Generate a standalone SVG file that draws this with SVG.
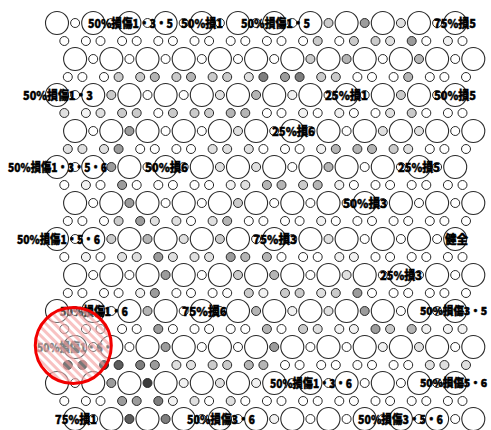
<svg xmlns="http://www.w3.org/2000/svg" xmlns:xlink="http://www.w3.org/1999/xlink" width="491" height="430" viewBox="0 0 491 430">
  <style>
    .L { fill: #fff; stroke: #2a2a2a; stroke-width: 1.1; }
    .s circle { r: 4.5px; stroke: #2a2a2a; stroke-width: 1; fill: #fff; }
    .s .a { fill: #f2f2f2; }
    .s .b { fill: #e0e0e0; }
    .s .c { fill: #cbcbcb; }
    .s .d { fill: #b5b5b5; }
    .s .e { fill: #9c9c9c; }
    .s .f { fill: #7e7e7e; }
    .s .g { fill: #5c5c5c; }
    .s .h { fill: #3c3c3c; }
    .lbl text { font-family: "Noto Sans CJK JP", "Noto Sans", sans-serif; font-weight: 900; font-size: 12px; fill: #000; stroke: #000; stroke-width: 0.45; }
    .lbl text.edge { font-size: 10.8px; stroke-width: 0.55; }
    .lbl text.faded { fill: #4a4a4a; stroke: #4a4a4a; }
  </style>
  <defs>
    <!-- one row of twelve large tubes, 36.2 apart -->
    <g id="big">
      <circle class="L" cx="0" r="11.5"/>
      <circle class="L" cx="36.2" r="11.5"/>
      <circle class="L" cx="72.4" r="11.5"/>
      <circle class="L" cx="108.6" r="11.5"/>
      <circle class="L" cx="144.8" r="11.5"/>
      <circle class="L" cx="181" r="11.5"/>
      <circle class="L" cx="217.2" r="11.5"/>
      <circle class="L" cx="253.4" r="11.5"/>
      <circle class="L" cx="289.6" r="11.5"/>
      <circle class="L" cx="325.8" r="11.5"/>
      <circle class="L" cx="362" r="11.5"/>
      <circle class="L" cx="398.2" r="11.5"/>
    </g>
    <pattern id="hatch" width="6" height="6" patternUnits="userSpaceOnUse" patternTransform="rotate(-45)">
      <rect width="6" height="6" fill="#fff" fill-opacity="0.3"/>
      <rect width="3" height="6" fill="#f39a9a" fill-opacity="0.6"/>
    </pattern>
  </defs>

  <!-- large tubes -->
  <g id="large-tubes">
    <use href="#big" x="57" y="23"/>
    <use href="#big" x="75.1" y="59"/>
    <use href="#big" x="57" y="95"/>
    <use href="#big" x="75.1" y="131"/>
    <use href="#big" x="57" y="167"/>
    <use href="#big" x="75.1" y="203"/>
    <use href="#big" x="57" y="239"/>
    <use href="#big" x="75.1" y="275"/>
    <use href="#big" x="57" y="311"/>
    <use href="#big" x="75.1" y="347"/>
    <use href="#big" x="57" y="383"/>
    <use href="#big" x="75.1" y="419"/>
  </g>

  <!-- small tubes between neighbours in each row -->
  <g id="row-small" class="s">
    <g transform="translate(0,23)">
      <circle cx="75.1"/><circle cx="111.3"/><circle cx="147.5"/><circle cx="183.7"/><circle cx="219.9"/><circle cx="256.1"/><circle cx="292.3"/><circle cx="328.5" class="c"/><circle cx="364.7" class="e"/><circle cx="400.9" class="b"/><circle cx="437.1"/>
    </g>
    <g transform="translate(0,59)">
      <circle cx="93.2"/><circle cx="129.4"/><circle cx="165.6"/><circle cx="201.8"/><circle cx="238"/><circle cx="274.2"/><circle cx="310.4" class="c"/><circle cx="346.6" class="d"/><circle cx="382.8"/><circle cx="419" class="d"/><circle cx="455.2"/>
    </g>
    <g transform="translate(0,95)">
      <circle cx="75.1"/><circle cx="111.3" class="c"/><circle cx="147.5"/><circle cx="183.7"/><circle cx="219.9" class="b"/><circle cx="256.1" class="d"/><circle cx="292.3" class="a"/><circle cx="328.5"/><circle cx="364.7"/><circle cx="400.9" class="c"/><circle cx="437.1"/>
    </g>
    <g transform="translate(0,131)">
      <circle cx="93.2"/><circle cx="129.4" class="e"/><circle cx="165.6"/><circle cx="201.8"/><circle cx="238" class="b"/><circle cx="274.2"/><circle cx="310.4"/><circle cx="346.6"/><circle cx="382.8" class="b"/><circle cx="419" class="b"/><circle cx="455.2"/>
    </g>
    <g transform="translate(0,167)">
      <circle cx="75.1"/><circle cx="111.3" class="e"/><circle cx="147.5"/><circle cx="183.7"/><circle cx="219.9" class="b"/><circle cx="256.1" class="b"/><circle cx="292.3"/><circle cx="328.5" class="d"/><circle cx="364.7"/><circle cx="400.9"/><circle cx="437.1"/>
    </g>
    <g transform="translate(0,203)">
      <circle cx="93.2"/><circle cx="129.4" class="e"/><circle cx="165.6"/><circle cx="201.8"/><circle cx="238" class="c"/><circle cx="274.2"/><circle cx="310.4"/><circle cx="346.6"/><circle cx="382.8"/><circle cx="419"/><circle cx="455.2"/>
    </g>
    <g transform="translate(0,239)">
      <circle cx="75.1"/><circle cx="111.3" class="c"/><circle cx="147.5" class="d"/><circle cx="183.7" class="b"/><circle cx="219.9" class="c"/><circle cx="256.1"/><circle cx="292.3"/><circle cx="328.5" class="b"/><circle cx="364.7"/><circle cx="400.9"/><circle cx="437.1"/>
    </g>
    <g transform="translate(0,275)">
      <circle cx="93.2"/><circle cx="129.4"/><circle cx="165.6" class="e"/><circle cx="201.8"/><circle cx="238" class="c"/><circle cx="274.2" class="d"/><circle cx="310.4"/><circle cx="346.6" class="b"/><circle cx="382.8"/><circle cx="419"/><circle cx="455.2"/>
    </g>
    <g transform="translate(0,311)">
      <circle cx="75.1"/><circle cx="111.3"/><circle cx="147.5" class="d"/><circle cx="183.7"/><circle cx="219.9"/><circle cx="256.1" class="d"/><circle cx="292.3" class="a"/><circle cx="328.5" class="b"/><circle cx="364.7" class="e"/><circle cx="400.9"/><circle cx="437.1"/>
    </g>
    <g transform="translate(0,347)">
      <circle cx="93.2"/><circle cx="129.4"/><circle cx="165.6" class="e"/><circle cx="201.8"/><circle cx="238"/><circle cx="274.2" class="e"/><circle cx="310.4"/><circle cx="346.6"/><circle cx="382.8" class="a"/><circle cx="419" class="b"/><circle cx="455.2"/>
    </g>
    <g transform="translate(0,383)">
      <circle cx="75.1"/><circle cx="111.3" class="e"/><circle cx="147.5" class="h"/><circle cx="183.7" class="a"/><circle cx="219.9" class="b"/><circle cx="256.1" class="a"/><circle cx="292.3"/><circle cx="328.5"/><circle cx="364.7"/><circle cx="400.9"/><circle cx="437.1"/>
    </g>
    <g transform="translate(0,419)">
      <circle cx="93.2"/><circle cx="129.4" class="g"/><circle cx="165.6" class="f"/><circle cx="201.8"/><circle cx="238"/><circle cx="274.2" class="a"/><circle cx="310.4"/><circle cx="346.6"/><circle cx="382.8"/><circle cx="419"/><circle cx="455.2"/>
    </g>
  </g>

  <!-- small tubes in the gaps between rows -->
  <g id="gap-small" class="s">
    <g transform="translate(0,41)">
      <circle cx="64.3"/><circle cx="85.9"/><circle cx="100.5"/><circle cx="122.1"/><circle cx="136.7"/><circle cx="158.3"/><circle cx="172.9"/><circle cx="194.5"/><circle cx="209.1"/><circle cx="230.7"/><circle cx="245.3"/><circle cx="266.9"/><circle cx="281.5"/><circle cx="303.1"/><circle cx="317.7" class="c"/><circle cx="339.3"/><circle cx="353.9" class="c"/><circle cx="375.5" class="c"/><circle cx="390.1" class="b"/><circle cx="411.7" class="e"/><circle cx="426.3"/><circle cx="447.9" class="a"/><circle cx="462.5"/>
    </g>
    <g transform="translate(0,77)">
      <circle cx="67.8"/><circle cx="82.4"/><circle cx="104"/><circle cx="118.6" class="c"/><circle cx="140.2" class="c"/><circle cx="154.8" class="d"/><circle cx="176.4" class="c"/><circle cx="191" class="d"/><circle cx="212.6" class="c"/><circle cx="227.2" class="c"/><circle cx="248.8" class="b"/><circle cx="263.4" class="f"/><circle cx="285" class="e"/><circle cx="299.6" class="f"/><circle cx="321.2" class="c"/><circle cx="335.8" class="c"/><circle cx="357.4"/><circle cx="372"/><circle cx="393.6"/><circle cx="408.2" class="d"/><circle cx="429.8"/><circle cx="444.4"/><circle cx="466"/>
    </g>
    <g transform="translate(0,113)">
      <circle cx="64.3" class="b"/><circle cx="85.9" class="a"/><circle cx="100.5" class="b"/><circle cx="122.1" class="c"/><circle cx="136.7" class="c"/><circle cx="158.3"/><circle cx="172.9" class="c"/><circle cx="194.5" class="c"/><circle cx="209.1" class="c"/><circle cx="230.7" class="d"/><circle cx="245.3" class="d"/><circle cx="266.9"/><circle cx="281.5"/><circle cx="303.1" class="a"/><circle cx="317.7"/><circle cx="339.3" class="a"/><circle cx="353.9"/><circle cx="375.5"/><circle cx="390.1" class="b"/><circle cx="411.7" class="c"/><circle cx="426.3"/><circle cx="447.9"/><circle cx="462.5"/>
    </g>
    <g transform="translate(0,149)">
      <circle cx="67.8" class="b"/><circle cx="82.4" class="b"/><circle cx="104" class="b"/><circle cx="118.6" class="e"/><circle cx="140.2"/><circle cx="154.8"/><circle cx="176.4"/><circle cx="191"/><circle cx="212.6" class="b"/><circle cx="227.2" class="b"/><circle cx="248.8" class="b"/><circle cx="263.4"/><circle cx="285"/><circle cx="299.6"/><circle cx="321.2" class="a"/><circle cx="335.8" class="d"/><circle cx="357.4" class="d"/><circle cx="372" class="d"/><circle cx="393.6" class="c"/><circle cx="408.2" class="b"/><circle cx="429.8"/><circle cx="444.4"/><circle cx="466"/>
    </g>
    <g transform="translate(0,185)">
      <circle cx="64.3"/><circle cx="85.9" class="a"/><circle cx="100.5"/><circle cx="122.1" class="e"/><circle cx="136.7"/><circle cx="158.3"/><circle cx="172.9"/><circle cx="194.5"/><circle cx="209.1"/><circle cx="230.7" class="a"/><circle cx="245.3" class="b"/><circle cx="266.9" class="d"/><circle cx="281.5" class="d"/><circle cx="303.1" class="c"/><circle cx="317.7" class="d"/><circle cx="339.3" class="a"/><circle cx="353.9"/><circle cx="375.5"/><circle cx="390.1"/><circle cx="411.7"/><circle cx="426.3"/><circle cx="447.9"/><circle cx="462.5"/>
    </g>
    <g transform="translate(0,221)">
      <circle cx="67.8"/><circle cx="82.4"/><circle cx="104"/><circle cx="118.6" class="c"/><circle cx="140.2" class="e"/><circle cx="154.8" class="b"/><circle cx="176.4" class="b"/><circle cx="191"/><circle cx="212.6" class="b"/><circle cx="227.2" class="d"/><circle cx="248.8"/><circle cx="263.4"/><circle cx="285"/><circle cx="299.6"/><circle cx="321.2" class="a"/><circle cx="335.8"/><circle cx="357.4"/><circle cx="372"/><circle cx="393.6"/><circle cx="408.2"/><circle cx="429.8"/><circle cx="444.4"/><circle cx="466"/>
    </g>
    <g transform="translate(0,257)">
      <circle cx="64.3"/><circle cx="85.9" class="a"/><circle cx="100.5"/><circle cx="122.1" class="b"/><circle cx="136.7" class="b"/><circle cx="158.3" class="e"/><circle cx="172.9" class="b"/><circle cx="194.5" class="b"/><circle cx="209.1" class="b"/><circle cx="230.7" class="e"/><circle cx="245.3" class="d"/><circle cx="266.9" class="d"/><circle cx="281.5"/><circle cx="303.1"/><circle cx="317.7"/><circle cx="339.3" class="a"/><circle cx="353.9" class="a"/><circle cx="375.5"/><circle cx="390.1"/><circle cx="411.7"/><circle cx="426.3"/><circle cx="447.9"/><circle cx="462.5"/>
    </g>
    <g transform="translate(0,293)">
      <circle cx="67.8"/><circle cx="82.4"/><circle cx="104"/><circle cx="118.6"/><circle cx="140.2" class="a"/><circle cx="154.8" class="e"/><circle cx="176.4"/><circle cx="191"/><circle cx="212.6"/><circle cx="227.2"/><circle cx="248.8" class="c"/><circle cx="263.4" class="a"/><circle cx="285" class="c"/><circle cx="299.6" class="c"/><circle cx="321.2" class="b"/><circle cx="335.8" class="c"/><circle cx="357.4" class="e"/><circle cx="372"/><circle cx="393.6"/><circle cx="408.2"/><circle cx="429.8"/><circle cx="444.4"/><circle cx="466"/>
    </g>
    <g transform="translate(0,329)">
      <circle cx="64.3"/><circle cx="85.9"/><circle cx="100.5"/><circle cx="122.1"/><circle cx="136.7"/><circle cx="158.3" class="e"/><circle cx="172.9"/><circle cx="194.5"/><circle cx="209.1"/><circle cx="230.7"/><circle cx="245.3"/><circle cx="266.9" class="d"/><circle cx="281.5"/><circle cx="303.1" class="c"/><circle cx="317.7" class="b"/><circle cx="339.3" class="a"/><circle cx="353.9" class="a"/><circle cx="375.5" class="e"/><circle cx="390.1" class="c"/><circle cx="411.7" class="d"/><circle cx="426.3" class="a"/><circle cx="447.9" class="a"/><circle cx="462.5" class="a"/>
    </g>
    <g transform="translate(0,365)">
      <circle cx="67.8" class="h"/><circle cx="82.4" class="h"/><circle cx="104" class="h"/><circle cx="118.6" class="g"/><circle cx="140.2" class="f"/><circle cx="154.8" class="e"/><circle cx="176.4" class="b"/><circle cx="191" class="b"/><circle cx="212.6" class="c"/><circle cx="227.2" class="c"/><circle cx="248.8" class="d"/><circle cx="263.4" class="d"/><circle cx="285"/><circle cx="299.6"/><circle cx="321.2"/><circle cx="335.8"/><circle cx="357.4"/><circle cx="372"/><circle cx="393.6"/><circle cx="408.2"/><circle cx="429.8" class="b"/><circle cx="444.4" class="b"/><circle cx="466" class="b"/>
    </g>
    <g transform="translate(0,401)">
      <circle cx="64.3"/><circle cx="85.9"/><circle cx="100.5"/><circle cx="122.1" class="e"/><circle cx="136.7" class="e"/><circle cx="158.3" class="f"/><circle cx="172.9" class="a"/><circle cx="194.5" class="b"/><circle cx="209.1"/><circle cx="230.7" class="b"/><circle cx="245.3"/><circle cx="266.9"/><circle cx="281.5"/><circle cx="303.1"/><circle cx="317.7"/><circle cx="339.3"/><circle cx="353.9"/><circle cx="375.5"/><circle cx="390.1"/><circle cx="411.7"/><circle cx="426.3"/><circle cx="447.9"/><circle cx="462.5"/>
    </g>
  </g>

  <!-- damage labels -->
  <g id="labels" class="lbl">
    <text x="88" y="27.5" textLength="85" lengthAdjust="spacingAndGlyphs">50%損傷1・3・5</text>
    <text x="181" y="27.5" textLength="42" lengthAdjust="spacingAndGlyphs">50%損1</text>
    <text x="241" y="27.5" textLength="69" lengthAdjust="spacingAndGlyphs">50%損傷1・5</text>
    <text x="434" y="27.5" textLength="42" lengthAdjust="spacingAndGlyphs">75%損5</text>
    <text x="23" y="99.5" textLength="70" lengthAdjust="spacingAndGlyphs">50%損傷1・3</text>
    <text x="325" y="99.5" textLength="43" lengthAdjust="spacingAndGlyphs">25%損1</text>
    <text x="434" y="99.5" textLength="42" lengthAdjust="spacingAndGlyphs">50%損5</text>
    <text x="272" y="135.5" textLength="43" lengthAdjust="spacingAndGlyphs">25%損6</text>
    <text x="8" y="171.5" textLength="99" lengthAdjust="spacingAndGlyphs">50%損傷1・3・5・6</text>
    <text x="145" y="171.5" textLength="43" lengthAdjust="spacingAndGlyphs">50%損6</text>
    <text x="398" y="171.5" textLength="42" lengthAdjust="spacingAndGlyphs">25%損5</text>
    <text x="343" y="207.5" textLength="44" lengthAdjust="spacingAndGlyphs">50%損3</text>
    <text x="17" y="243.5" textLength="83" lengthAdjust="spacingAndGlyphs">50%損傷1・5・6</text>
    <text x="253" y="243.5" textLength="44" lengthAdjust="spacingAndGlyphs">75%損3</text>
    <text x="445" y="243.5" textLength="23" lengthAdjust="spacingAndGlyphs">健全</text>
    <text x="380" y="279.5" textLength="42" lengthAdjust="spacingAndGlyphs">25%損3</text>
    <text x="60" y="315.5" textLength="68" lengthAdjust="spacingAndGlyphs">50%損傷1・6</text>
    <text x="182" y="315.5" textLength="45" lengthAdjust="spacingAndGlyphs">75%損6</text>
    <text x="420" y="315.3" textLength="67" lengthAdjust="spacingAndGlyphs" class="edge">50%損傷3・5</text>
    <text x="37" y="351.5" textLength="76" lengthAdjust="spacingAndGlyphs" class="faded">50%損傷1・6・</text>
    <text x="270" y="387.5" textLength="82" lengthAdjust="spacingAndGlyphs">50%損傷1・3・6</text>
    <text x="420" y="387.3" textLength="67" lengthAdjust="spacingAndGlyphs" class="edge">50%損傷5・6</text>
    <text x="55" y="423.5" textLength="42" lengthAdjust="spacingAndGlyphs">75%損1</text>
    <text x="187" y="423.5" textLength="68" lengthAdjust="spacingAndGlyphs">50%損傷3・6</text>
    <text x="358" y="423.5" textLength="85" lengthAdjust="spacingAndGlyphs">50%損傷3・5・6</text>
  </g>

  <!-- highlighted zone -->
  <circle id="focus" cx="73.3" cy="345.5" r="38" fill="url(#hatch)" stroke="#f20000" stroke-width="3"/>
</svg>
